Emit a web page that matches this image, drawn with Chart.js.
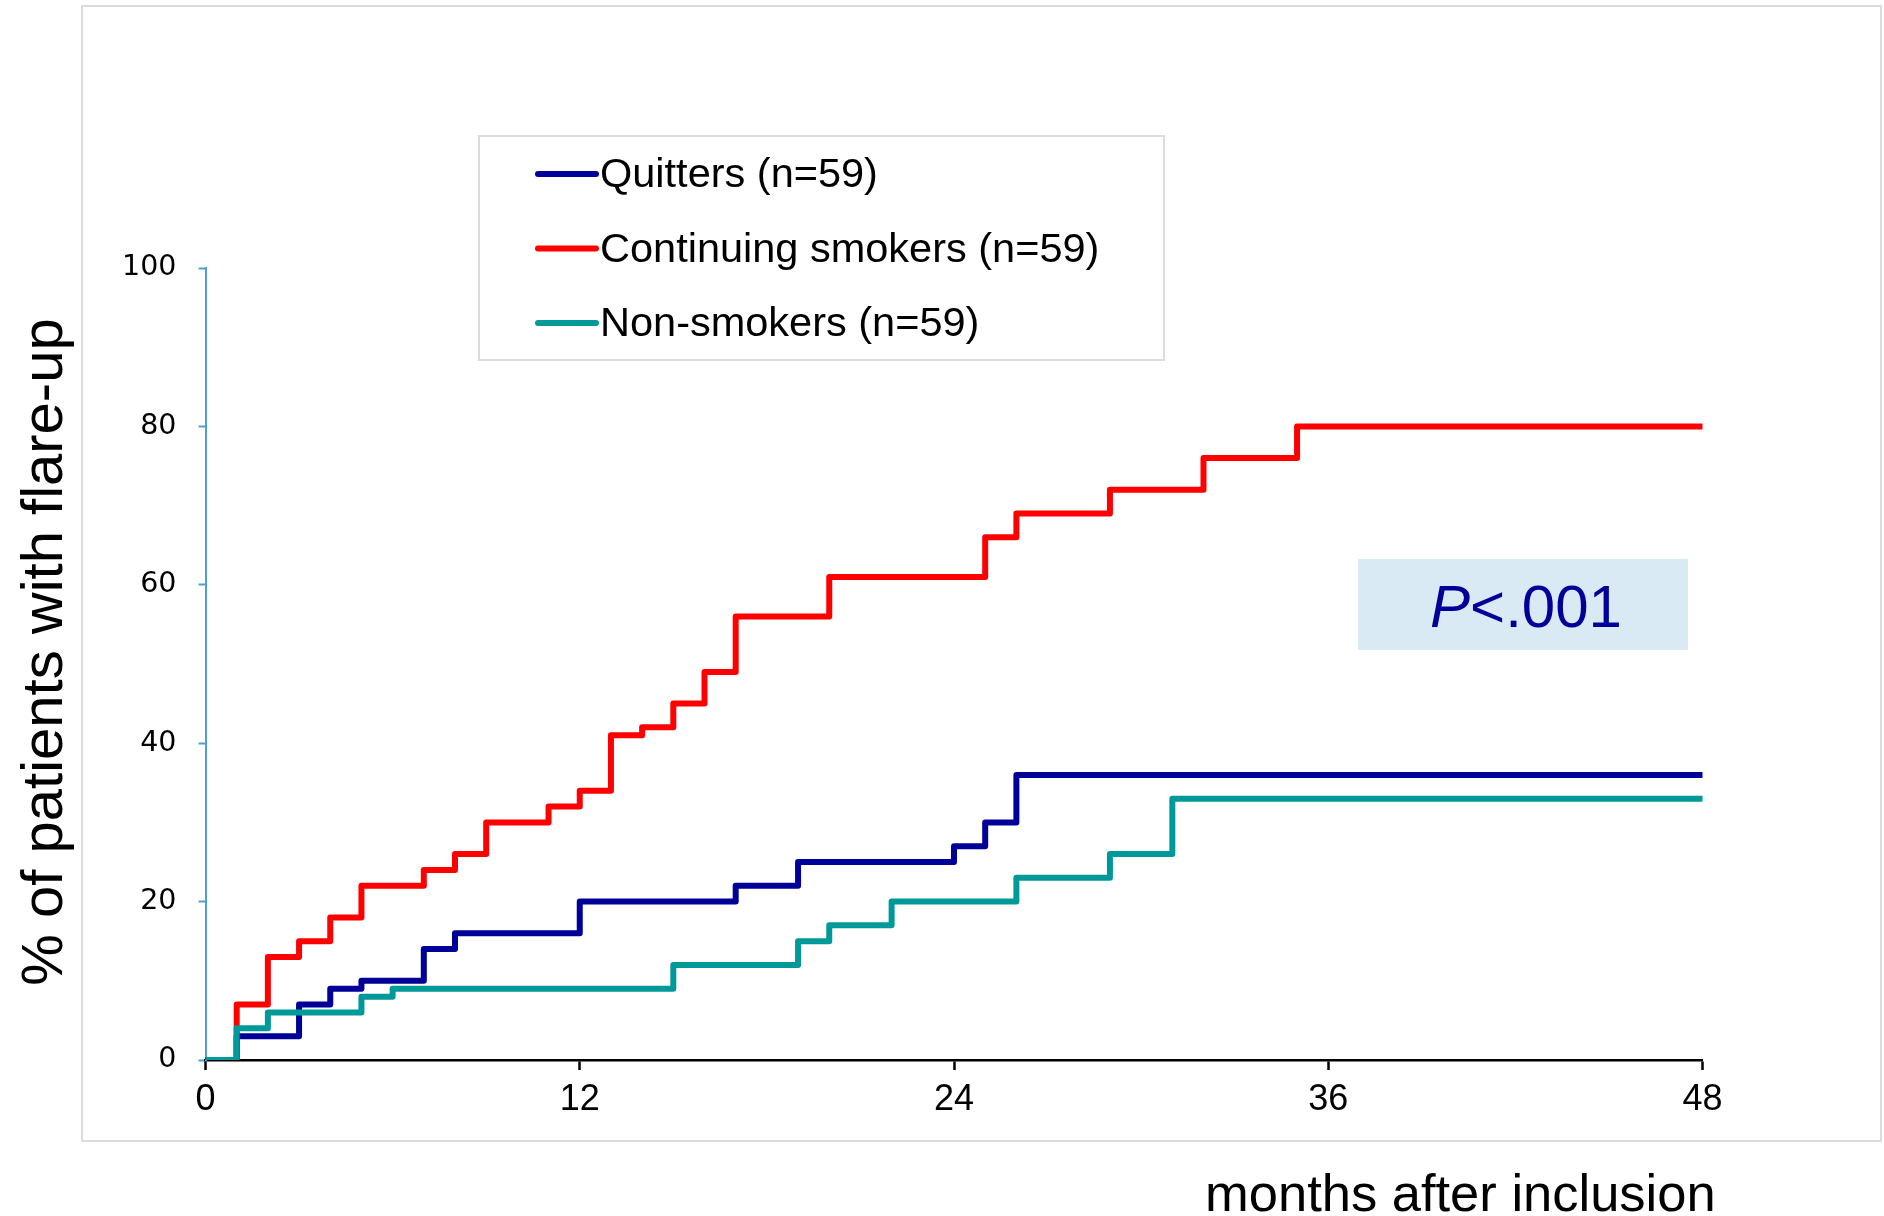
<!DOCTYPE html>
<html>
<head>
<meta charset="utf-8">
<title>Flare-up by smoking status</title>
<script src="https://cdn.jsdelivr.net/npm/chart.js@4.4.1/dist/chart.umd.min.js"></script>
<style>
  html, body { margin: 0; padding: 0; background: #ffffff; }
  canvas { display: block; }
</style>
</head>
<body>
<canvas id="chart" width="1884" height="1216"></canvas>
<script>
// Cumulative % of patients with a flare-up, step changes at each month
const seriesLabels = ['Quitters (n=59)', 'Continuing smokers (n=59)', 'Non-smokers (n=59)'];
const seriesColors = ['#000099', '#ff0000', '#009999'];

const quittersMonths = [0, 1, 3, 4, 5, 7, 8, 12, 17, 19, 24, 25, 26, 48];
const quittersPct    = [0, 3, 7, 9, 10, 14, 16, 20, 22, 25, 27, 30, 36, 36];

const smokersMonths = [0, 1, 2, 3, 4, 5, 7, 8, 9, 11, 12, 13, 14, 15, 16, 17, 20, 25, 26, 29, 32, 35, 48];
const smokersPct    = [0, 7, 13, 15, 18, 22, 24, 26, 30, 32, 34, 41, 42, 45, 49, 56, 61, 66, 69, 72, 76, 80, 80];

const nonSmokersMonths = [0, 1, 2, 5, 6, 15, 19, 20, 22, 26, 29, 31, 48];
const nonSmokersPct    = [0, 4, 6, 8, 9, 12, 15, 17, 20, 23, 26, 33, 33];

const xTickValues = [0, 12, 24, 36, 48];
const yTickValues = [0, 20, 40, 60, 80, 100];

const xAxisTitle = 'months after inclusion';
const yAxisTitle = '% of patients with flare-up';
const pValueItalic = 'P';
const pValueRest = '<.001';

function toPoints(months, pct) {
  return months.map((m, i) => ({ x: m, y: pct[i] }));
}

const seriesPoints = [
  toPoints(quittersMonths, quittersPct),
  toPoints(smokersMonths, smokersPct),
  toPoints(nonSmokersMonths, nonSmokersPct)
];
// drawing order: non-smokers on top, continuing smokers underneath
const drawOrder = [1, 2, 0];

const datasets = seriesLabels.map((label, i) => ({
  label: label,
  data: seriesPoints[i],
  borderColor: seriesColors[i],
  backgroundColor: seriesColors[i],
  borderWidth: 6,
  stepped: 'before',
  pointRadius: 0,
  fill: false,
  order: drawOrder[i],
  borderJoinStyle: 'round',
  borderCapStyle: 'round'
}));

// light grey outer frame
const framePlugin = {
  id: 'frame',
  beforeDraw(chart) {
    const ctx = chart.ctx;
    ctx.save();
    ctx.fillStyle = '#ffffff';
    ctx.fillRect(0, 0, chart.width, chart.height);
    ctx.strokeStyle = '#dcdcdc';
    ctx.lineWidth = 2;
    ctx.strokeRect(82, 6, 1799, 1135);
    ctx.restore();
  }
};

// boxed legend with line samples, and the p-value box
const annotationsPlugin = {
  id: 'annotations',
  afterDatasetsDraw(chart) {
    const ctx = chart.ctx;
    ctx.save();
    // legend
    ctx.fillStyle = '#ffffff';
    ctx.fillRect(479, 136, 685, 224);
    ctx.strokeStyle = '#dcdcdc';
    ctx.lineWidth = 2;
    ctx.strokeRect(479, 136, 685, 224);
    const rowY = [174, 248.5, 323];
    chart.data.datasets.forEach((ds, i) => {
      ctx.strokeStyle = ds.borderColor;
      ctx.lineWidth = 6;
      ctx.lineCap = 'round';
      ctx.beginPath();
      ctx.moveTo(538, rowY[i]);
      ctx.lineTo(596, rowY[i]);
      ctx.stroke();
      ctx.fillStyle = '#000000';
      ctx.font = '41.5px "Liberation Sans", Arial, sans-serif';
      ctx.textAlign = 'left';
      ctx.textBaseline = 'middle';
      ctx.fillText(ds.label, 600, rowY[i] + 2);
    });
    // p-value box
    ctx.fillStyle = '#daeaf4';
    ctx.fillRect(1358, 559, 330, 91);
    ctx.fillStyle = '#000099';
    ctx.textBaseline = 'alphabetic';
    ctx.textAlign = 'left';
    const italicFont = 'italic 60px "Liberation Sans", Arial, sans-serif';
    const plainFont = '60px "Liberation Sans", Arial, sans-serif';
    ctx.font = italicFont;
    const w1 = ctx.measureText(pValueItalic).width;
    ctx.font = plainFont;
    const w2 = ctx.measureText(pValueRest).width;
    const startX = 1526 - (w1 + w2) / 2;
    ctx.font = italicFont;
    ctx.fillText(pValueItalic, startX, 627);
    ctx.font = plainFont;
    ctx.fillText(pValueRest, startX + w1, 627);
    ctx.restore();
  },
  afterDraw(chart) {
    const ctx = chart.ctx;
    ctx.save();
    ctx.fillStyle = '#000000';
    // x axis title
    ctx.font = '52.5px "Liberation Sans", Arial, sans-serif';
    ctx.textAlign = 'left';
    ctx.textBaseline = 'alphabetic';
    ctx.fillText(xAxisTitle, 1205, 1211);
    // y axis title
    ctx.translate(62, 652);
    ctx.rotate(-Math.PI / 2);
    ctx.font = '58px "Liberation Sans", Arial, sans-serif';
    ctx.textAlign = 'center';
    ctx.fillText(yAxisTitle, 0, 0);
    ctx.restore();
  }
};

const chart = new Chart(document.getElementById('chart'), {
  type: 'line',
  data: { datasets: datasets },
  options: {
    responsive: false,
    animation: false,
    devicePixelRatio: 1,
    layout: { padding: { top: 268, right: 181.5, left: 0, bottom: 0 } },
    plugins: {
      legend: { display: false },
      tooltip: { enabled: false }
    },
    scales: {
      x: {
        type: 'linear',
        min: 0,
        max: 48,
        afterBuildTicks(scale) { scale.ticks = xTickValues.map(v => ({ value: v })); },
        afterFit(scale) { scale.height = 156; },
        grid: {
          drawOnChartArea: false,
          drawTicks: true,
          tickLength: 10,
          tickColor: '#000000',
          tickWidth: 2.5,
          color: '#000000'
        },
        border: { display: true, color: '#000000', width: 2.5 },
        ticks: {
          autoSkip: false,
          maxRotation: 0,
          padding: 8,
          color: '#000000',
          font: { family: '"Liberation Sans", Arial, sans-serif', size: 36 }
        }
      },
      y: {
        type: 'linear',
        min: 0,
        max: 100,
        afterBuildTicks(scale) { scale.ticks = yTickValues.map(v => ({ value: v })); },
        afterFit(scale) { scale.width = 205.5; },
        grid: {
          drawOnChartArea: false,
          drawTicks: true,
          tickLength: 7,
          tickColor: '#4f9fd3',
          tickWidth: 2,
          color: '#4f9fd3'
        },
        border: { display: true, color: '#4f9fd3', width: 2 },
        ticks: {
          autoSkip: false,
          padding: 22,
          color: '#000000',
          font: { family: '"DejaVu Sans", sans-serif', size: 28.5 }
        }
      }
    }
  },
  plugins: [framePlugin, annotationsPlugin]
});
</script>
</body>
</html>
